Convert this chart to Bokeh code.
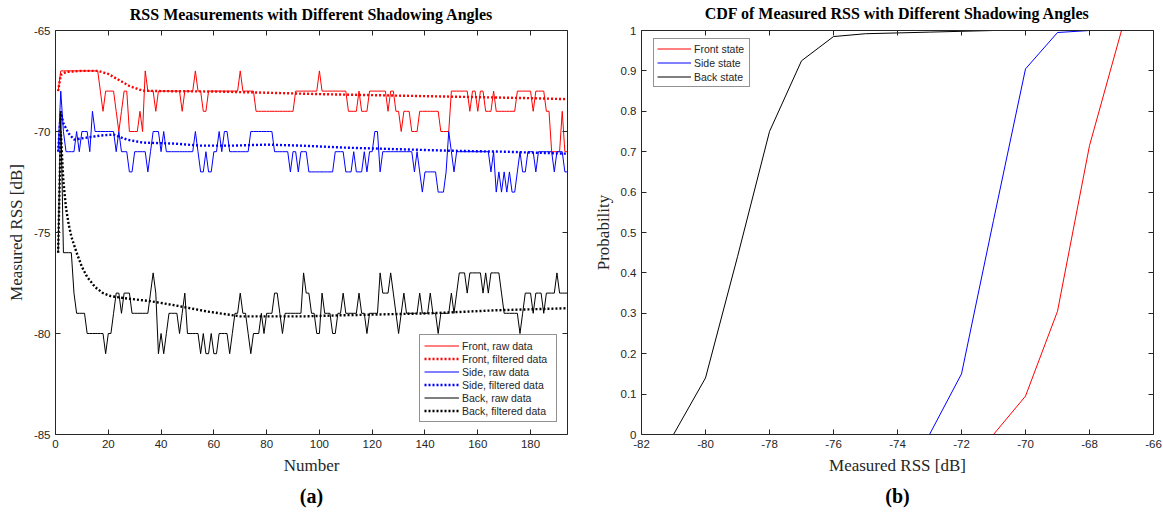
from bokeh.plotting import figure
from bokeh.models import LinearAxis, FixedTicker, Legend, LegendItem
from bokeh.layouts import row
from bokeh.embed import file_html
from bokeh.resources import INLINE

# ---------------- data: left panel (raw RSS per sample number) ----------------
sample_no = list(range(1, 195))

front_raw = [
    -68, -67, -67, -67, -67, -67, -67, -67, -67, -67,
    -67, -67, -67, -67, -67, -67, -68, -69, -68, -68,
    -68, -68, -69, -70, -69, -68, -68, -70, -70, -70,
    -70, -69, -70, -67, -68, -68, -68, -69, -68, -68,
    -68, -68, -68, -68, -68, -68, -68, -69, -68, -68,
    -68, -68, -67, -68, -68, -69, -69, -68, -68, -68,
    -68, -68, -68, -68, -68, -68, -68, -68, -68, -67,
    -68, -68, -68, -68, -68, -69, -69, -69, -69, -69,
    -69, -69, -69, -69, -69, -69, -69, -69, -69, -69,
    -68, -68, -68, -68, -68, -68, -68, -68, -68, -67,
    -68, -68, -68, -68, -68, -68, -68, -68, -68, -68,
    -69, -69, -69, -69, -68, -69, -69, -69, -68, -68,
    -68, -68, -68, -68, -68, -69, -68, -68, -69, -69,
    -70, -69, -69, -69, -70, -70, -70, -69, -69, -69,
    -69, -69, -69, -69, -69, -70, -70, -70, -70, -68,
    -68, -68, -68, -68, -68, -68, -69, -68, -68, -69,
    -68, -68, -69, -69, -69, -68, -69, -69, -69, -69,
    -69, -69, -69, -69, -68, -68, -68, -68, -68, -68,
    -69, -68, -68, -68, -68, -69, -69, -71, -71, -71,
    -71, -69, -71, -71,
]

side_raw = [
    -71, -68, -70, -71, -71, -71, -71, -70, -71, -70,
    -70, -70, -71, -69, -70, -70, -70, -70, -70, -70,
    -70, -70, -71, -70, -71, -71, -71, -72, -72, -71,
    -71, -71, -71, -71, -72, -71, -70, -70, -70, -71,
    -70, -71, -71, -71, -71, -71, -71, -71, -71, -71,
    -71, -71, -70, -71, -72, -72, -71, -72, -72, -71,
    -71, -70, -71, -70, -70, -71, -71, -71, -71, -71,
    -71, -71, -71, -70, -70, -70, -70, -70, -70, -70,
    -70, -70, -71, -71, -71, -71, -71, -71, -72, -71,
    -71, -72, -71, -71, -71, -72, -72, -72, -72, -72,
    -72, -72, -72, -72, -72, -71, -71, -71, -71, -72,
    -72, -72, -71, -72, -72, -72, -71, -72, -71, -71,
    -70, -70, -72, -71, -71, -71, -71, -71, -71, -71,
    -71, -71, -71, -71, -71, -72, -71, -72, -73, -72,
    -72, -72, -72, -72, -73, -73, -73, -72, -70, -71,
    -72, -71, -71, -71, -71, -71, -71, -71, -71, -71,
    -71, -71, -71, -71, -72, -71, -73, -72, -73, -72,
    -73, -72, -73, -73, -72, -71, -72, -72, -71, -71,
    -71, -72, -71, -71, -71, -71, -71, -71, -72, -71,
    -71, -71, -72, -72,
]

back_raw = [
    -76, -69, -76, -76, -76, -76, -78, -79, -79, -79,
    -79, -80, -80, -80, -80, -80, -80, -80, -81, -80,
    -80, -79, -78, -78, -79, -78, -78, -78, -79, -79,
    -79, -79, -79, -79, -79, -78, -77, -78, -81, -80,
    -81, -80, -79, -79, -79, -79, -80, -79, -78, -80,
    -80, -80, -80, -80, -81, -80, -81, -81, -80, -81,
    -81, -80, -80, -80, -80, -81, -80, -79, -79, -78,
    -79, -79, -80, -81, -80, -80, -80, -79, -80, -79,
    -79, -79, -78, -78, -79, -80, -79, -79, -79, -79,
    -79, -79, -79, -77, -78, -78, -79, -79, -80, -80,
    -78, -79, -79, -79, -80, -80, -79, -79, -78, -79,
    -79, -79, -79, -79, -78, -79, -79, -80, -79, -79,
    -79, -79, -77, -78, -78, -78, -77, -78, -79, -80,
    -79, -78, -79, -79, -79, -79, -79, -78, -79, -79,
    -79, -78, -79, -79, -80, -79, -79, -79, -79, -78,
    -79, -78, -77, -77, -77, -78, -77, -77, -77, -77,
    -77, -78, -77, -78, -77, -77, -77, -77, -78, -79,
    -79, -79, -79, -79, -79, -80, -79, -78, -78, -78,
    -79, -78, -78, -78, -79, -78, -78, -78, -78, -77,
    -78, -78, -78, -78,
]

# filtered curves at a few sample numbers
front_filt_x = [1, 2, 4, 10, 16, 20, 24, 28, 33, 40, 60, 80, 100, 120, 140, 160, 180, 194]
front_filt_y = [-68.0, -67.2, -67.05, -67.0, -67.0, -67.15, -67.45, -67.75, -67.98, -68.0,
                -68.02, -68.08, -68.15, -68.2, -68.25, -68.3, -68.35, -68.4]

side_filt_x = [1, 2, 3, 5, 7, 12, 17, 22, 27, 33, 45, 55, 67, 80, 93, 110, 123, 149, 170, 194]
side_filt_y = [-71.0, -69.0, -69.6, -70.1, -70.4, -70.3, -70.2, -70.15, -70.4, -70.55,
               -70.6, -70.7, -70.7, -70.65, -70.7, -70.8, -70.85, -70.95, -71.0, -71.1]

back_filt_x = [1, 2, 3, 4, 5, 6, 8, 10, 12, 15, 18, 21, 26, 36, 45, 57, 70, 95, 108, 125, 142, 167, 194]
back_filt_y = [-76.0, -70.0, -72.5, -73.8, -74.6, -75.2, -76.0, -76.7, -77.2, -77.7, -78.0,
               -78.15, -78.25, -78.4, -78.6, -78.9, -79.15, -79.15, -79.1, -79.05, -79.0,
               -78.85, -78.75]

left_xticks = [0, 20, 40, 60, 80, 100, 120, 140, 160, 180]
left_xlabels = ["0", "20", "40", "60", "80", "100", "120", "140", "160", "180"]
left_yticks = [-85, -80, -75, -70, -65]
left_ylabels = ["-85", "-80", "-75", "-70", "-65"]

# ---------------- data: right panel (CDF) ----------------
front_cdf_x = [-71, -70, -69, -68, -67]
front_cdf_y = [0.0, 0.095, 0.305, 0.715, 1.0]
side_cdf_x = [-73, -72, -71, -70, -69, -68]
side_cdf_y = [0.0, 0.15, 0.53, 0.905, 0.995, 1.0]
back_cdf_x = [-81, -80, -79, -78, -77, -76, -75, -74, -73, -72, -71]
back_cdf_y = [0.0, 0.14, 0.44, 0.75, 0.925, 0.985, 0.992, 0.994, 0.996, 0.998, 1.0]

right_xticks = [-82, -80, -78, -76, -74, -72, -70, -68, -66]
right_xlabels = ["-82", "-80", "-78", "-76", "-74", "-72", "-70", "-68", "-66"]
right_yticks = [0, 0.1, 0.2, 0.3, 0.4, 0.5, 0.6, 0.7, 0.8, 0.9, 1]
right_ylabels = ["0", "0.1", "0.2", "0.3", "0.4", "0.5", "0.6", "0.7", "0.8", "0.9", "1"]

SERIF = "Liberation Serif"
SANS = "Liberation Sans"
AX = "#262626"


def style_axis(ax, ticks, labels=None):
    ax.ticker = FixedTicker(ticks=ticks)
    if labels is not None:
        ax.major_label_overrides = {t: s for t, s in zip(ticks, labels)}
    ax.major_tick_in = 5
    ax.major_tick_out = 0
    ax.minor_tick_line_color = None
    ax.axis_line_color = AX
    ax.major_tick_line_color = AX
    ax.major_label_text_font = SANS
    ax.major_label_text_font_size = "11.5px"
    ax.major_label_text_color = AX
    ax.axis_label_text_font = SERIF
    ax.axis_label_text_font_style = "normal"
    ax.axis_label_text_font_size = "17px"
    ax.axis_label_text_color = AX


def make_fig(xr, yr, w, h, bl, br, bt, bb, title, standoff):
    p = figure(x_range=xr, y_range=yr, width=w, height=h,
               min_border_left=bl, min_border_right=br, min_border_top=bt,
               min_border_bottom=bb, output_backend="svg", toolbar_location=None,
               title=title, margin=(-6, 0, 0, 0))
    p.title.align = "center"
    p.title.text_font = SERIF
    p.title.text_font_style = "bold"
    p.title.text_font_size = "16px"
    p.title.text_color = "black"
    p.title.standoff = standoff
    p.xgrid.visible = False
    p.ygrid.visible = False
    p.outline_line_color = None
    return p


def tick_only_axis(ticks):
    ax = LinearAxis()
    style_axis(ax, ticks)
    ax.major_label_standoff = 0
    ax.major_label_text_font_size = "1px"
    ax.major_label_text_color = None
    return ax


def add_frame_axes(p, xt, xl, yt, yl, tag):
    style_axis(p.xaxis[0], xt, xl)
    style_axis(p.yaxis[0], yt, yl)
    p.add_layout(tick_only_axis(xt), "above")
    p.add_layout(tick_only_axis(yt), "right")
    lab = LinearAxis(ticker=FixedTicker(ticks=[]), axis_label=tag)
    lab.axis_line_color = None
    lab.major_tick_line_color = None
    lab.minor_tick_line_color = None
    lab.major_label_text_color = None
    lab.axis_label_text_font = SERIF
    lab.axis_label_text_font_style = "bold"
    lab.axis_label_text_font_size = "20px"
    lab.axis_label_text_color = "black"
    lab.axis_label_standoff = 7
    p.add_layout(lab, "below")


def style_legend(leg):
    leg.label_text_font = SANS
    leg.label_text_font_size = "10.5px"
    leg.label_text_color = AX
    leg.glyph_width = 35
    leg.glyph_height = 13
    leg.label_height = 13
    leg.label_standoff = 3
    leg.spacing = 0
    leg.padding = 4
    leg.margin = 0
    leg.border_line_color = AX
    leg.border_line_width = 1
    leg.background_fill_color = "white"
    leg.background_fill_alpha = 1


# ---------------- left figure ----------------
p1 = make_fig((0, 194), (-85, -65), 590, 527, 55, 23, 30, 87,
              "RSS Measurements with Different Shadowing Angles", 15)
p1.xaxis.axis_label = "Number"
p1.yaxis.axis_label = "Measured RSS [dB]"
add_frame_axes(p1, left_xticks, left_xlabels, left_yticks, left_ylabels, "(a)")

r_fr = p1.line(sample_no, front_raw, line_color="red", line_width=1)
r_ff = p1.line(front_filt_x, front_filt_y, line_color="red", line_width=2.4, line_dash="2 2")
r_sr = p1.line(sample_no, side_raw, line_color="blue", line_width=1)
r_sf = p1.line(side_filt_x, side_filt_y, line_color="blue", line_width=2.4, line_dash="2 2")
r_br = p1.line(sample_no, back_raw, line_color="black", line_width=1)
r_bf = p1.line(back_filt_x, back_filt_y, line_color="black", line_width=2.4, line_dash="2 2")

leg1 = Legend(items=[
    LegendItem(label="Front, raw data", renderers=[r_fr]),
    LegendItem(label="Front, filtered data", renderers=[r_ff]),
    LegendItem(label="Side, raw data", renderers=[r_sr]),
    LegendItem(label="Side, filtered data", renderers=[r_sf]),
    LegendItem(label="Back, raw data", renderers=[r_br]),
    LegendItem(label="Back, filtered data", renderers=[r_bf]),
], location=(364, 12))
style_legend(leg1)
leg1.label_width = 90
p1.add_layout(leg1)

# ---------------- right figure ----------------
p2 = make_fig((-82, -66), (0, 1), 573, 527, 51, 10, 32, 84,
              "CDF of Measured RSS with Different Shadowing Angles", 17)
p2.xaxis.axis_label = "Measured RSS [dB]"
p2.yaxis.axis_label = "Probability"
add_frame_axes(p2, right_xticks, right_xlabels, right_yticks, right_ylabels, "(b)")

c_f = p2.line(front_cdf_x, front_cdf_y, line_color="red", line_width=1)
c_s = p2.line(side_cdf_x, side_cdf_y, line_color="blue", line_width=1)
c_b = p2.line(back_cdf_x, back_cdf_y, line_color="black", line_width=1)

leg2 = Legend(items=[
    LegendItem(label="Front state", renderers=[c_f]),
    LegendItem(label="Side state", renderers=[c_s]),
    LegendItem(label="Back state", renderers=[c_b]),
], location=(12, 347))
style_legend(leg2)
leg2.glyph_width = 34
leg2.padding = 3
leg2.spacing = 1
leg2.label_width = 52
p2.add_layout(leg2)

layout = row(p1, p2)
open("out.html", "w").write(file_html(layout, INLINE))
